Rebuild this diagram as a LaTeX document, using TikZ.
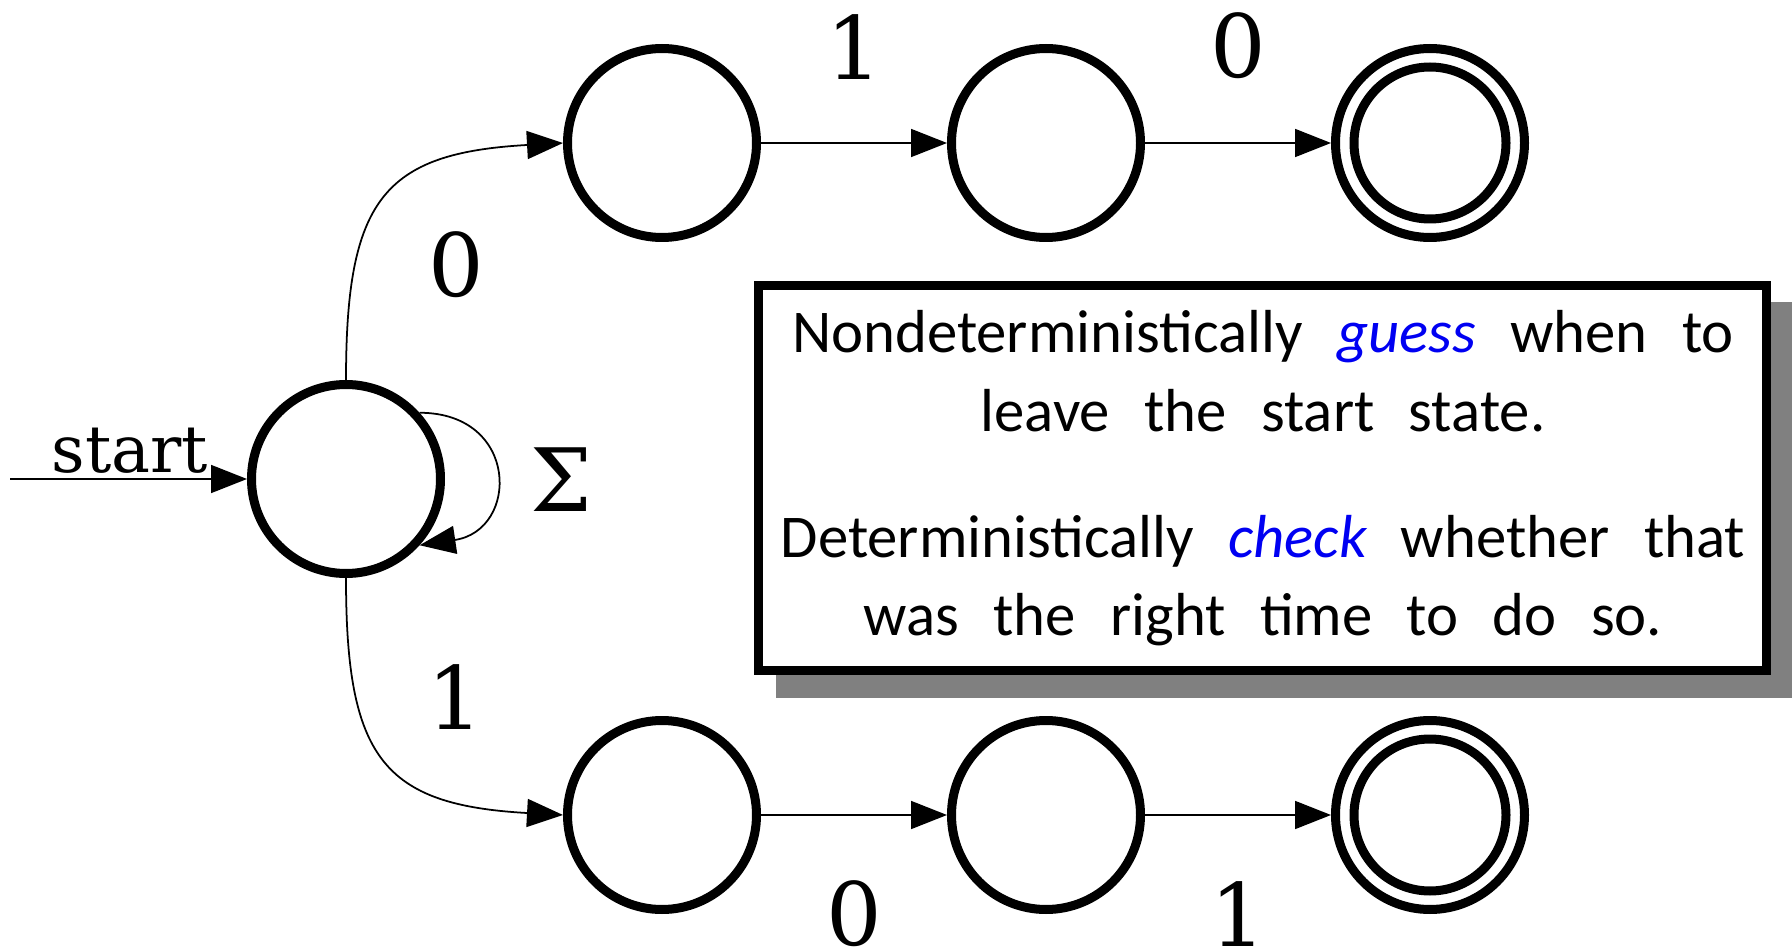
\documentclass[tikz,border=0pt]{standalone}
\usepackage{fontspec}
\setmainfont{DejaVu Serif}
\newfontfamily\notefont[WordSpace=2.5]{Carlito}
\usetikzlibrary{arrows.meta,backgrounds,calc}
\definecolor{shadowgray}{gray}{0.5}
\definecolor{guessblue}{rgb}{0,0,0.95}
\begin{document}
\begin{tikzpicture}[
  state/.style={circle, draw, line width=0.09cm, minimum size=1.89cm, inner sep=0pt, fill=white},
  acc/.style={state, path picture={\draw[line width=0.09cm] (path picture bounding box.center) circle (0.76cm);}},
  edge/.style={draw, line width=0.5pt, -{Triangle[length=3.6mm,width=2.8mm]}},
  lbl/.style={font=\fontsize{24.88}{30}\selectfont, inner sep=0pt},
  notetext/.style={font=\notefont\fontsize{17.28}{22}\selectfont, inner sep=0pt, anchor=base},
]
\useasboundingbox (0,0) rectangle (17.92,-9.47);

% states
\node[state] (q0) at (3.46,-4.79) {};
\node[state] (q1) at (6.62,-1.43) {};
\node[state] (q2) at (10.46,-1.43) {};
\node[acc]   (q3) at (14.30,-1.43) {};
\node[state] (q4) at (6.62,-8.15) {};
\node[state] (q5) at (10.46,-8.15) {};
\node[acc]   (q6) at (14.30,-8.15) {};

% start arrow
\coordinate (s0) at (0.10,-4.79);
\draw[edge] (s0) -- (q0);
\node[font=\fontsize{18.6}{22}\selectfont, anchor=base, inner sep=0pt] (startlbl) at (1.30,-4.73) {start};

% transitions
\draw[edge] (q0.north) .. controls +(0,1.8) and +(-1.8,-0.1) .. (q1.west);
\draw[edge] (q0.south) .. controls +(0,-1.8) and +(-1.8,0.1) .. (q4.west);
\draw[edge] (q0.42) .. controls +(1.0,0) and +(1.0,0.15) .. (q0.-42);
\draw[edge] (q1) -- (q2);
\draw[edge] (q2) -- (q3);
\draw[edge] (q4) -- (q5);
\draw[edge] (q5) -- (q6);

% labels
\node[lbl] (l01) at (4.56,-2.65) {0};
\node[lbl] (l04) at (4.55,-6.97) {1};
\node[lbl] (l00) at (5.61,-4.80) {Σ};
\node[lbl] (l12) at (8.54,-0.47) {1};
\node[lbl] (l23) at (12.38,-0.46) {0};
\node[lbl] (l45) at (8.54,-9.14) {0};
\node[lbl] (l56) at (12.38,-9.14) {1};

% note box
\node[draw, line width=0.085cm, fill=white, minimum width=10.08cm, minimum height=3.85cm, inner sep=0pt] (note) at (12.625,-4.78) {};
\begin{scope}[on background layer]
\fill[shadowgray] ($(note.north west)+(0.22,-0.21)$) rectangle ($(note.south east)+(0.22,-0.23)$);
\end{scope}
\node[notetext] (t1) at (12.63,-3.53) {Nondeterministically \textcolor{guessblue}{\itshape guess} when to};
\node[notetext] (t2) at (12.63,-4.32) {leave the start state.};
\node[notetext] (t3) at (12.63,-5.57) {Deterministically \textcolor{guessblue}{\itshape check} whether that};
\node[notetext] (t4) at (12.63,-6.35) {was the right time to do so.};
\end{tikzpicture}
\end{document}
